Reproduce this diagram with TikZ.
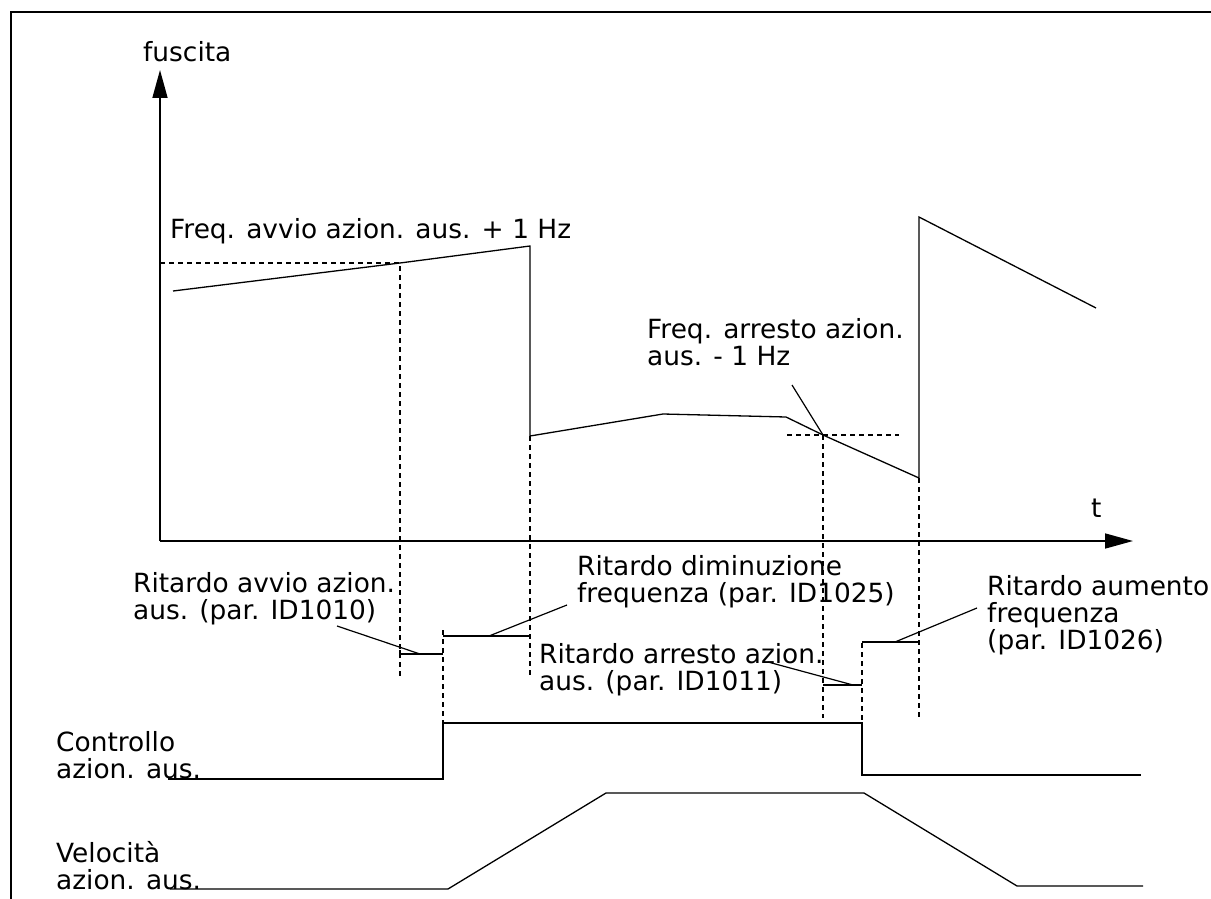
\documentclass[tikz,border=0pt]{standalone}
\usepackage{fontspec}
\setmainfont{DejaVu Sans}
\usetikzlibrary{arrows.meta}
\begin{document}
\begin{tikzpicture}[x=1pt,y=-1pt,
  lbl/.style={anchor=base west,inner sep=0pt,align=left,font=\fontsize{26.4}{27}\selectfont},
  sig/.style={line width=1.3pt,line join=miter},
  axisline/.style={line width=1.6pt,-{Triangle[length=28pt,width=15pt]}},
  guide/.style={line width=1.1pt,dash pattern=on 5pt off 4pt},
  lead/.style={line width=1.2pt}]
\useasboundingbox (0,0) rectangle (1211,899);
% frame
\draw[line width=1.4pt] (11,899) -- (11,12) -- (1211,12);
% axes
\coordinate (O) at (160,541);
\coordinate (Ytip) at (160,70);
\coordinate (Xtip) at (1133,541);
\draw[axisline] (O) -- (Ytip);
\draw[axisline] (O) -- (Xtip);
\node[lbl] (ylab) at (143,62) {fuscita};
\node[lbl] (tlab) at (1091,517) {t};
% frequency curve
\coordinate (f1) at (173,291);
\coordinate (f2) at (400,263);
\coordinate (f3) at (530,246);
\coordinate (f4) at (530,436);
\coordinate (f5) at (663,414);
\coordinate (f6) at (786,417);
\coordinate (f7) at (823,435);
\coordinate (f8) at (919,478);
\coordinate (f9) at (919,217);
\coordinate (f10) at (1096,308);
\draw[sig] (f1) -- (f2) -- (f3) -- (f4) -- (f5) -- (f6) -- (f7) -- (f8) -- (f9) -- (f10);
% guide lines
\coordinate (g1) at (160,263);
\coordinate (g2) at (400,677);
\coordinate (g3) at (530,675);
\coordinate (g4a) at (443,630);
\coordinate (g4b) at (443,723);
\coordinate (g5a) at (787,435);
\coordinate (g5b) at (899,435);
\coordinate (g6) at (823,718);
\coordinate (g7a) at (862,643);
\coordinate (g7b) at (862,722);
\coordinate (g8) at (919,717);
\draw[guide] (g1) -- (f2) -- (g2);
\draw[guide] (f4) -- (g3);
\draw[guide] (g4a) -- (g4b);
\draw[guide] (g5a) -- (g5b);
\draw[guide] (f7) -- (g6);
\draw[guide] (g7a) -- (g7b);
\draw[guide] (f8) -- (g8);
% delay bars
\coordinate (b1a) at (400,654);
\coordinate (b1b) at (443,654);
\coordinate (b2a) at (443,636);
\coordinate (b2b) at (530,636);
\coordinate (b3a) at (823,685);
\coordinate (b3b) at (862,685);
\coordinate (b4a) at (862,642);
\coordinate (b4b) at (919,642);
\draw[lead] (b1a) -- (b1b);
\draw[lead] ([yshift=-4pt]b1a) -- ([yshift=4pt]b1a);
\draw[lead] (b2a) -- (b2b);
\draw[lead] (b3a) -- (b3b);
\draw[lead] (b4a) -- (b4b);
% labels (base anchor = baseline of last line)
\node[lbl] (lfa) at (170,238) {Freq. avvio azion. aus. + 1 Hz};
\node[lbl] (lfs) at (647,365) {Freq. arresto azion.\\aus. - 1 Hz};
\node[lbl] (lra) at (133,619) {Ritardo avvio azion.\\aus. (par. ID1010)};
\node[lbl] (lrd) at (577,602) {Ritardo diminuzione\\frequenza (par. ID1025)};
\node[lbl] (lrs) at (539,690) {Ritardo arresto azion.\\aus. (par. ID1011)};
\node[lbl] (lru) at (987,649) {Ritardo aumento\\frequenza\\(par. ID1026)};
\node[lbl] (lctl) at (56,778) {Controllo\\azion. aus.};
\node[lbl] (lvel) at (56,889) {Velocità\\azion. aus.};
% leaders
\coordinate (l1s) at (337,626); \coordinate (l1e) at (420,654);
\coordinate (l2s) at (567,605); \coordinate (l2e) at (489,636);
\coordinate (l3s) at (768,662); \coordinate (l3e) at (853,685);
\coordinate (l4s) at (977,608); \coordinate (l4e) at (895,642);
\coordinate (l5s) at (792,385);
\draw[lead] (l1s) -- (l1e);
\draw[lead] (l2s) -- (l2e);
\draw[lead] (l3s) -- (l3e);
\draw[lead] (l4s) -- (l4e);
\draw[lead] (l5s) -- (f7);
% control signal
\coordinate (c1) at (168,779);
\coordinate (c2) at (443,779);
\coordinate (c3) at (443,723);
\coordinate (c4) at (862,723);
\coordinate (c5) at (862,775);
\coordinate (c6) at (1141,775);
\draw[sig] (c1) -- (c2) -- (c3) -- (c4) -- (c5) -- (c6);
% speed
\coordinate (v1) at (170,889);
\coordinate (v2) at (448,889);
\coordinate (v3) at (606,793);
\coordinate (v4) at (864,793);
\coordinate (v5) at (1017,886);
\coordinate (v6) at (1143,886);
\draw[sig] (v1) -- (v2) -- (v3) -- (v4) -- (v5) -- (v6);
\end{tikzpicture}
\end{document}
